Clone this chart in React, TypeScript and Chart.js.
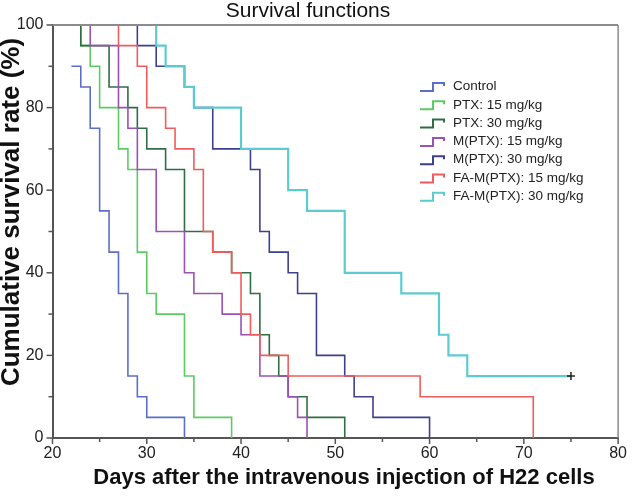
import React, { useEffect, useRef } from 'react';
import { Chart, registerables } from 'chart.js';

Chart.register(...registerables);

// ---- Data (Kaplan–Meier steps: day of event, survival % after event) ----
const groupLabels = [
  'Control',
  'PTX: 15 mg/kg',
  'PTX: 30 mg/kg',
  'M(PTX): 15 mg/kg',
  'M(PTX): 30 mg/kg',
  'FA-M(PTX): 15 mg/kg',
  'FA-M(PTX): 30 mg/kg',
];
const groupColors = ['#5b6fc8', '#5ccb62', '#2f6e45', '#9a52b4', '#3d3f8f', '#f05c5c', '#5ccbd0'];

const controlDays = [22, 23, 24, 25, 26, 27, 28, 29, 30, 34];
const controlSurv = [90, 85, 75, 55, 45, 35, 15, 10, 5, 0];

const ptx15Days = [23, 23, 24, 25, 27, 28, 29, 30, 31, 34, 35, 39];
const ptx15Surv = [100, 95, 90, 80, 70, 65, 45, 35, 30, 15, 5, 0];

const ptx30Days = [23, 23, 26, 28, 29, 30, 32, 34, 37, 39, 41, 42, 43, 44, 45, 47, 51];
const ptx30Surv = [100, 95, 85, 80, 75, 70, 65, 50, 45, 40, 35, 25, 20, 15, 10, 5, 0];

const m15Days = [24, 24, 27, 28, 29, 31, 34, 35, 38, 40, 42, 45, 46, 47];
const m15Surv = [100, 95, 80, 75, 65, 50, 40, 35, 30, 25, 15, 10, 5, 0];

const m30Days = [29, 29, 31, 34, 35, 37, 41, 42, 43, 45, 46, 48, 51, 52, 54, 60];
const m30Surv = [100, 95, 90, 85, 80, 70, 65, 50, 45, 40, 35, 20, 15, 10, 5, 0];

const fa15Days = [27, 27, 29, 30, 32, 33, 35, 36, 37, 39, 40, 41, 42, 45, 59, 71];
const fa15Surv = [100, 95, 90, 80, 75, 70, 65, 50, 45, 40, 30, 25, 20, 15, 10, 0];

const fa30Days = [31, 31, 32, 34, 35, 40, 45, 47, 51, 57, 61, 62, 64, 75];
const fa30Surv = [100, 95, 90, 85, 80, 70, 60, 55, 40, 35, 25, 20, 15, 15];

const groupDays = [controlDays, ptx15Days, ptx30Days, m15Days, m30Days, fa15Days, fa30Days];
const groupSurv = [controlSurv, ptx15Surv, ptx30Surv, m15Surv, m30Surv, fa15Surv, fa30Surv];
const censoredAtEnd = [false, false, false, false, false, false, true];

const xTickValues = [20, 30, 40, 50, 60, 70, 80];
const yTickValues = [0, 20, 40, 60, 80, 100];

const chartTitle = 'Survival functions';
const xTitle = 'Days after the intravenous injection of H22 cells';
const yTitle = 'Cumulative survival rate (%)';

const FONT = '"Liberation Sans", Arial, sans-serif';

export default function App() {
  const canvasRef = useRef<HTMLCanvasElement>(null);

  useEffect(() => {
    const canvas = canvasRef.current;
    if (!canvas) return;

    const datasets = groupLabels.map((label, i) => {
      const days = groupDays[i];
      const surv = groupSurv[i];
      const last = days.length - 1;
      return {
        label,
        data: days.map((d, j) => ({ x: d, y: surv[j] })),
        borderColor: groupColors[i],
        backgroundColor: groupColors[i],
        borderWidth: i === 6 ? 2.2 : 1.6,
        stepped: 'before' as const,
        fill: false,
        pointRadius: days.map((_, j) => (censoredAtEnd[i] && j === last ? 4 : 0)),
        pointStyle: 'cross' as const,
        pointBorderColor: '#222',
        pointBorderWidth: 1.5,
        order: groupLabels.length - i,
        clip: 3,
      };
    });

    const decorPlugin = {
      id: 'decor',
      afterDraw(chart: any) {
        const ctx = chart.ctx as CanvasRenderingContext2D;
        const { left, right, top, bottom } = chart.chartArea;
        const xs = chart.scales.x;
        const ys = chart.scales.y;
        ctx.save();
        // frame top/right
        ctx.strokeStyle = '#8c8c8c';
        ctx.lineWidth = 2;
        ctx.beginPath();
        ctx.moveTo(left, top);
        ctx.lineTo(right, top);
        ctx.stroke();
        ctx.lineWidth = 1.5;
        ctx.beginPath();
        ctx.moveTo(right, top);
        ctx.lineTo(right, bottom);
        ctx.stroke();

        // tick marks
        ctx.strokeStyle = '#555';
        ctx.lineWidth = 1.5;
        for (let v = 20; v <= 80; v += 5) {
          const px = xs.getPixelForValue(v);
          const len = v % 10 === 0 ? 6 : 4;
          ctx.beginPath();
          ctx.moveTo(px, bottom);
          ctx.lineTo(px, bottom + len);
          ctx.stroke();
        }
        for (let v = 0; v <= 100; v += 10) {
          const py = ys.getPixelForValue(v);
          const len = v % 20 === 0 ? 6 : 4;
          ctx.beginPath();
          ctx.moveTo(left, py);
          ctx.lineTo(left - len, py);
          ctx.stroke();
        }

        // titles
        ctx.fillStyle = '#111';
        ctx.textAlign = 'center';
        ctx.textBaseline = 'alphabetic';
        ctx.font = `21px ${FONT}`;
        ctx.fillText(chartTitle, 308, 17);
        ctx.font = `bold 22px ${FONT}`;
        ctx.textBaseline = 'middle';
        ctx.fillText(xTitle, 344, 478);
        ctx.save();
        ctx.translate(12, 212);
        ctx.rotate(-Math.PI / 2);
        ctx.font = `bold 26px ${FONT}`;
        ctx.fillText(yTitle, 0, 0);
        ctx.restore();

        // legend
        ctx.font = `13.5px ${FONT}`;
        ctx.textAlign = 'left';
        ctx.textBaseline = 'middle';
        ctx.lineWidth = 2;
        groupLabels.forEach((label, i) => {
          const y = 86.5 + i * 18.3;
          ctx.strokeStyle = groupColors[i];
          ctx.beginPath();
          ctx.moveTo(420, y + 4.5);
          ctx.lineTo(433, y + 4.5);
          ctx.lineTo(433, y - 3.5);
          ctx.lineTo(444, y - 3.5);
          ctx.lineTo(444, y - 0.5);
          ctx.stroke();
          ctx.fillStyle = '#222';
          ctx.fillText(label, 453, y);
        });
        ctx.restore();
      },
    };

    const chart = new Chart(canvas, {
      type: 'line',
      data: { datasets: datasets as any },
      options: {
        responsive: false,
        animation: false,
        events: [],
        layout: { padding: { top: 25, right: 9, left: 0, bottom: 0 } },
        scales: {
          x: {
            type: 'linear',
            min: 20,
            max: 80,
            afterBuildTicks: (s: any) => {
              s.ticks = xTickValues.map((v) => ({ value: v }));
            },
            ticks: { color: '#222', font: { family: FONT, size: 16 }, padding: 6, maxRotation: 0 },
            grid: { display: true, drawOnChartArea: false, drawTicks: false },
            border: { color: '#555', width: 2 },
            afterFit: (s: any) => {
              s.height = 60;
            },
          },
          y: {
            type: 'linear',
            min: 0,
            max: 100,
            afterBuildTicks: (s: any) => {
              s.ticks = yTickValues.map((v) => ({ value: v }));
            },
            ticks: { color: '#222', font: { family: FONT, size: 16 }, padding: 9 },
            grid: { display: true, drawOnChartArea: false, drawTicks: false },
            border: { color: '#555', width: 2 },
            afterFit: (s: any) => {
              s.width = 52.5;
            },
          },
        },
        plugins: {
          legend: { display: false },
          title: { display: false },
          tooltip: { enabled: false },
        },
      },
      plugins: [decorPlugin],
    });

    return () => chart.destroy();
  }, []);

  return (
    <div style={{ position: 'fixed', left: 0, top: 0, width: 633, height: 498, background: '#fff' }}>
      <canvas ref={canvasRef} width={633} height={498} style={{ display: 'block' }} />
    </div>
  );
}
